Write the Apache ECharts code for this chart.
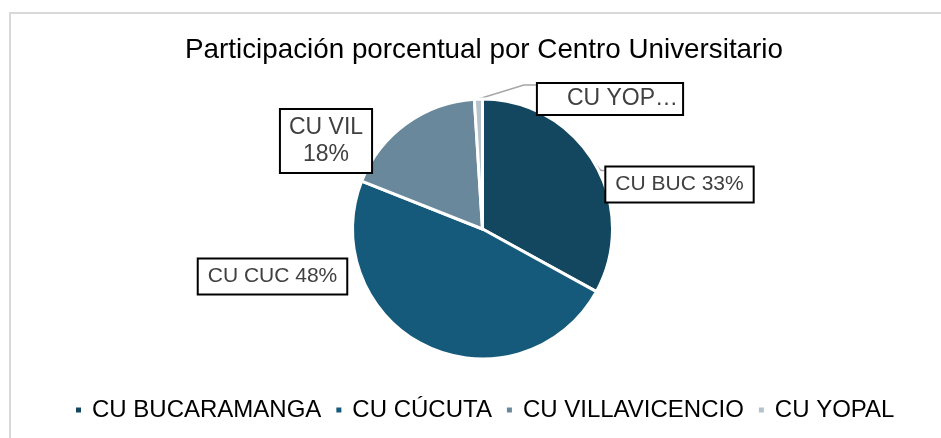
<!DOCTYPE html>
<html><head><meta charset="utf-8">
<script src="https://cdn.jsdelivr.net/npm/echarts@6/dist/echarts.min.js"></script>
<style>html,body{margin:0;padding:0;background:#fff}#c{width:941px;height:438px}</style>
</head><body><div id="c"></div>
<script>
// ---- data ----
const titleText = 'Participación porcentual por Centro Universitario';
const categories = ['CU BUCARAMANGA', 'CU CÚCUTA', 'CU VILLAVICENCIO', 'CU YOPAL'];
const shortLabels = ['CU BUC', 'CU CUC', 'CU VIL', 'CU YOP…'];
const values = [33, 48, 18, 1];

// ---- style / layout (not data) ----
const colors = ['#12475F', '#155A7A', '#6A889C', '#B4C2CC'];
const FONT = '"Liberation Sans", Arial, sans-serif';
const labelCenters = [[679.5, 184.5], [272.5, 276.5], [326, 141], [610, 99]];
const labelStyles = [
  { fontSize: 21, lineHeight: 22, padding: [6, 9, 6, 9] },
  { fontSize: 21, lineHeight: 22, padding: [6, 9, 6, 9] },
  { fontSize: 23, lineHeight: 27, padding: [4, 8, 4, 8] },
  { fontSize: 23, lineHeight: 24, padding: [3, 4, 3, 29] }
];
const showLine = [true, false, false, true];

const chart = echarts.init(document.getElementById('c'), null, { renderer: 'canvas' });

const seriesData = categories.map((name, i) => ({
  name: name,
  value: values[i],
  itemStyle: { color: colors[i] },
  label: Object.assign({
    formatter: function (p) {
      if (i === 3) return shortLabels[i];
      const pct = Math.round(p.percent) + '%';
      return i === 2 ? shortLabels[i] + '\n' + pct : shortLabels[i] + ' ' + pct;
    }
  }, labelStyles[i]),
  labelLine: { show: showLine[i] }
}));

chart.setOption({
  animation: false,
  backgroundColor: '#ffffff',
  graphic: [{
    type: 'rect', silent: true, z: -10,
    shape: { x: 10, y: 13, width: 2000, height: 2000 },
    style: { fill: 'none', stroke: '#d9d9d9', lineWidth: 2 }
  }],
  title: {
    text: titleText,
    left: 479, top: 30, textAlign: 'center',
    textStyle: { fontFamily: FONT, fontSize: 27.8, fontWeight: 'normal', color: '#000000', lineHeight: 30 }
  },
  legend: {
    data: categories,
    left: 74, top: 398, padding: 0,
    icon: 'rect', itemWidth: 7, itemHeight: 7, itemGap: 13,
    selectedMode: false,
    textStyle: { fontFamily: FONT, fontSize: 24, color: '#000000', lineHeight: 24, padding: [0, 0, 0, 5] }
  },
  series: [{
    type: 'pie',
    center: [482.5, 229],
    radius: 130,
    startAngle: 90,
    clockwise: true,
    avoidLabelOverlap: false,
    itemStyle: { borderColor: '#ffffff', borderWidth: 3 },
    label: {
      show: true, position: 'outside',
      fontFamily: FONT, color: '#404040',
      backgroundColor: '#ffffff', borderColor: '#000000', borderWidth: 2
    },
    labelLine: {
      show: true, length: 5, length2: 5,
      maxSurfaceAngle: 180,
      lineStyle: { color: '#a6a6a6', width: 1.5 }
    },
    labelLayout: function (p) {
      const i = p.dataIndex;
      const c = labelCenters[i];
      const res = { x: c[0], y: c[1], align: 'center', verticalAlign: 'middle' };
      const start = p.labelLinePoints ? p.labelLinePoints[0] : null;
      if (start && showLine[i]) {
        const w = p.labelRect.width, h = p.labelRect.height;
        const left = c[0] - w / 2, top = c[1] - h / 2;
        if (i === 0) {
          res.labelLinePoints = [start, [start[0] + 6.5, top + 5], [left, top + 5]];
        } else {
          res.labelLinePoints = [start, [left - 12, top + 3], [left, top + 3]];
        }
      }
      return res;
    },
    data: seriesData
  }]
});
</script>
</body></html>
